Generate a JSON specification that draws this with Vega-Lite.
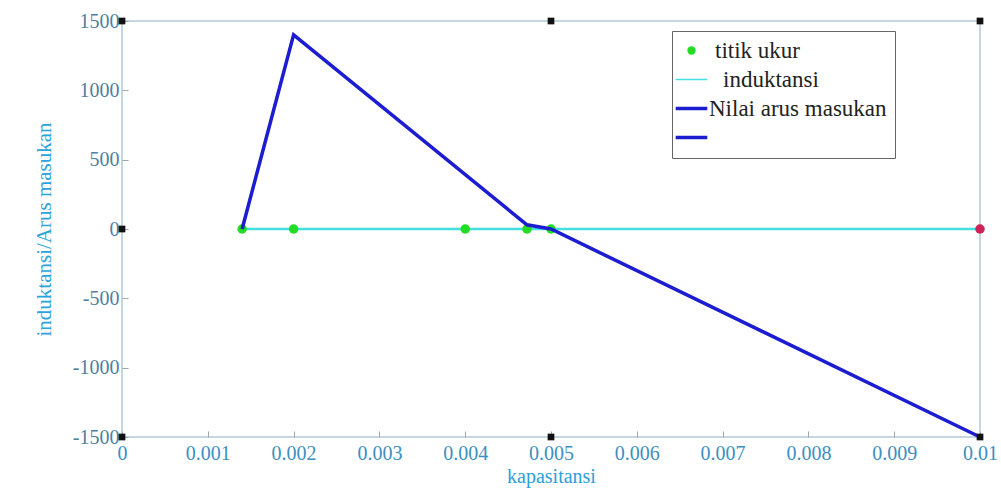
{
  "$schema": "https://vega.github.io/schema/vega-lite/v6.json",
  "width": 858,
  "height": 416,
  "autosize": {"type": "none"},
  "padding": {"left": 122, "top": 21, "right": 21, "bottom": 58},
  "background": "white",
  "config": {
    "view": {"stroke": "#b4c9d6", "strokeWidth": 1.5},
    "font": "Liberation Serif, Times New Roman, serif",
    "axis": {"labelFont": "Liberation Serif, Times New Roman, serif", "titleFont": "Liberation Serif, Times New Roman, serif"},
    "legend": {"labelFont": "Liberation Serif, Times New Roman, serif"}
  },
  "datasets": {
    "arus": [
      {"k": 0.0014, "v": 0, "series": "Nilai arus masukan"},
      {"k": 0.002, "v": 1400, "series": "Nilai arus masukan"},
      {"k": 0.00472, "v": 30, "series": "Nilai arus masukan"},
      {"k": 0.005, "v": 0, "series": "Nilai arus masukan"},
      {"k": 0.01, "v": -1500, "series": "Nilai arus masukan"}
    ],
    "induk": [
      {"k": 0.0014, "v": 0, "series": "induktansi"},
      {"k": 0.01, "v": 0, "series": "induktansi"}
    ],
    "titik": [
      {"k": 0.0014, "v": 0, "series": "titik ukur"},
      {"k": 0.002, "v": 0, "series": "titik ukur"},
      {"k": 0.004, "v": 0, "series": "titik ukur"},
      {"k": 0.00472, "v": 0, "series": "titik ukur"},
      {"k": 0.005, "v": 0, "series": "titik ukur"}
    ],
    "kosong": [
      {"k": 0.01, "v": 0, "series": " "}
    ],
    "merah": [
      {"k": 0.01, "v": 0}
    ],
    "sudut": [
      {"k": 0, "v": 1500},
      {"k": 0.005, "v": 1500},
      {"k": 0.01, "v": 1500},
      {"k": 0, "v": 0},
      {"k": 0, "v": -1500},
      {"k": 0.005, "v": -1500},
      {"k": 0.01, "v": -1500}
    ]
  },
  "layer": [
    {
      "data": {"name": "induk"},
      "mark": {"type": "line", "strokeWidth": 2.5, "clip": false},
      "encoding": {
        "x": {
          "field": "k", "type": "quantitative",
          "scale": {"domain": [0, 0.01], "nice": false, "zero": false},
          "axis": {
            "title": "kapasitansi", "titleFontSize": 20,
            "titleFontWeight": "normal", "titleColor": "#2b9fd8", "titlePadding": 3,
            "values": [0, 0.001, 0.002, 0.003, 0.004, 0.005, 0.006, 0.007, 0.008, 0.009, 0.01],
            "labelExpr": "'' + round(datum.value * 1000) / 1000",
            "labelFontSize": 20, "labelColor": "#3d8fc0",
            "labelPadding": 12, "labelFlush": false, "labelOverlap": false,
            "tickSize": -6, "tickColor": "#9aa8b0", "domain": false, "grid": false
          }
        },
        "y": {
          "field": "v", "type": "quantitative",
          "scale": {"domain": [-1500, 1500], "nice": false},
          "axis": {
            "title": "induktansi/Arus masukan", "titleFontSize": 21,
            "titleFontWeight": "normal", "titleColor": "#2ba3dc", "titlePadding": 18,
            "values": [-1500, -1000, -500, 0, 500, 1000, 1500],
            "labelExpr": "'' + datum.value",
            "labelFontSize": 20, "labelColor": "#4f7f9c",
            "labelPadding": 9, "labelFlush": false, "labelOverlap": false,
            "tickSize": -6, "tickColor": "#9aa8b0", "domain": false, "grid": false
          }
        },
        "color": {
          "field": "series", "type": "nominal",
          "scale": {
            "domain": ["titik ukur", "induktansi", "Nilai arus masukan", " "],
            "range": ["#22dd22", "#44e0e0", "#1c1cd0", "#1c1cd0"]
          },
          "legend": {
            "orient": "none", "legendX": 550, "legendY": 10,
            "title": null,
            "direction": "vertical",
            "fillColor": "white", "strokeColor": "#666666",
            "padding": 8,
            "labelFontSize": 23, "labelColor": "#222222",
            "labelLimit": 400,
            "rowPadding": 5,
            "symbolSize": 900,
            "symbolStrokeWidth": 3,
            "labelOffset": 6,
            "encode": {
              "symbols": {
                "update": {
                  "shape": {"signal": "datum.value === 'titik ukur' ? 'circle' : 'stroke'"},
                  "size": {"signal": "datum.value === 'titik ukur' ? 70 : 1000"},
                  "strokeWidth": {"signal": "datum.value === 'induktansi' ? 1.5 : (datum.value === 'titik ukur' ? 0 : 3.5)"},
                  "fill": {"signal": "datum.value === 'titik ukur' ? '#22dd22' : 'transparent'"},
                  "opacity": {"value": 1}
                }
              },
              "labels": {
                "update": {
                  "dx": {"signal": "datum.value === 'titik ukur' ? 6 : (datum.value === 'induktansi' ? 14 : 0)"}
                }
              }
            }
          }
        }
      }
    },
    {
      "data": {"name": "kosong"},
      "mark": {"type": "line", "strokeWidth": 3, "opacity": 0},
      "encoding": {
        "x": {"field": "k", "type": "quantitative"},
        "y": {"field": "v", "type": "quantitative"},
        "color": {"field": "series", "type": "nominal"}
      }
    },
    {
      "data": {"name": "titik"},
      "mark": {"type": "point", "filled": true, "size": 90, "opacity": 1},
      "encoding": {
        "x": {"field": "k", "type": "quantitative"},
        "y": {"field": "v", "type": "quantitative"},
        "color": {"field": "series", "type": "nominal"}
      }
    },
    {
      "data": {"name": "arus"},
      "mark": {"type": "line", "strokeWidth": 3.5},
      "encoding": {
        "x": {"field": "k", "type": "quantitative"},
        "y": {"field": "v", "type": "quantitative"},
        "color": {"field": "series", "type": "nominal"}
      }
    },
    {
      "data": {"name": "merah"},
      "mark": {"type": "point", "filled": true, "size": 90, "color": "#cc2255", "opacity": 1, "clip": false},
      "encoding": {
        "x": {"field": "k", "type": "quantitative"},
        "y": {"field": "v", "type": "quantitative"}
      }
    },
    {
      "data": {"name": "sudut"},
      "mark": {"type": "square", "filled": true, "size": 45, "color": "#111111", "opacity": 1, "clip": false},
      "encoding": {
        "x": {"field": "k", "type": "quantitative"},
        "y": {"field": "v", "type": "quantitative"}
      }
    }
  ]
}
